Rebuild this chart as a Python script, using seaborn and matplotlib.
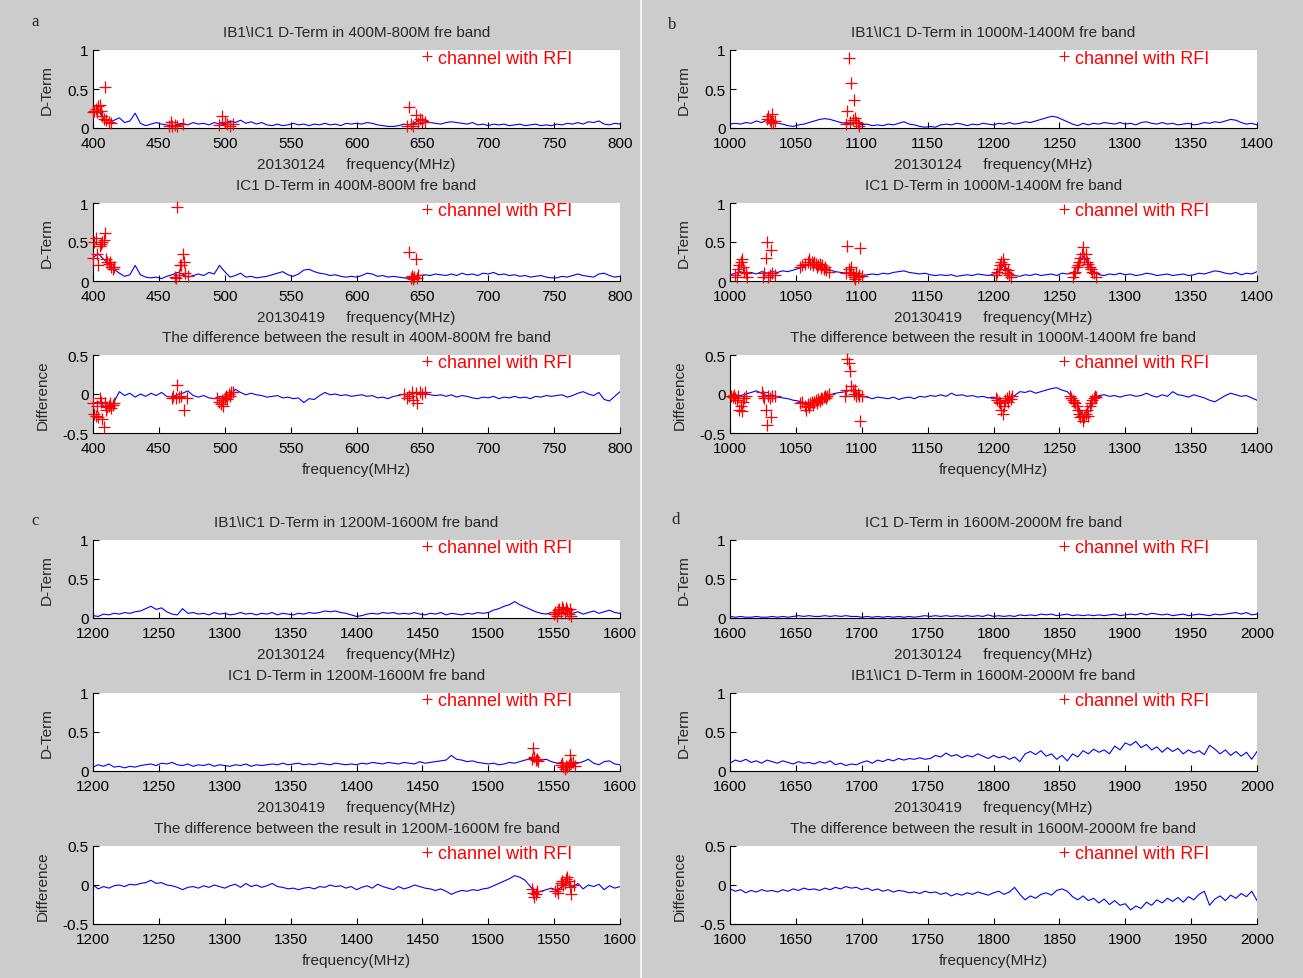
import numpy as np
import matplotlib
matplotlib.use("Agg")
import matplotlib.pyplot as plt
from matplotlib.lines import Line2D
import seaborn as sns

sns.set_style("white")
plt.rcParams["font.family"] = ["Liberation Sans", "DejaVu Sans"]
plt.rcParams["axes.unicode_minus"] = False

# ---------------- data (4 MHz grid, rows of 10 values = 40 MHz) ----------------
a1_vals = [0.20,0.22,0.12,0.06,0.10,0.13,0.07,0.09,0.19,0.06,
           0.03,0.05,0.07,0.05,0.04,0.02,0.05,0.06,0.04,0.07,
           0.05,0.06,0.04,0.07,0.05,0.06,0.09,0.07,0.10,0.06,
           0.08,0.05,0.07,0.04,0.03,0.05,0.03,0.04,0.06,0.04,
           0.05,0.03,0.05,0.04,0.06,0.04,0.05,0.03,0.06,0.05,
           0.06,0.05,0.07,0.06,0.04,0.03,0.02,0.02,0.03,0.05,
           0.04,0.07,0.10,0.09,0.07,0.06,0.05,0.07,0.08,0.07,
           0.06,0.05,0.07,0.04,0.05,0.03,0.05,0.04,0.05,0.03,
           0.04,0.05,0.03,0.04,0.05,0.03,0.04,0.03,0.05,0.04,
           0.06,0.05,0.07,0.05,0.08,0.07,0.09,0.05,0.04,0.06,
           0.05]
a2_vals = [0.30,0.35,0.28,0.22,0.15,0.10,0.06,0.08,0.20,0.08,
           0.05,0.04,0.05,0.03,0.06,0.08,0.11,0.09,0.05,0.07,
           0.09,0.07,0.11,0.09,0.20,0.12,0.05,0.07,0.10,0.05,
           0.06,0.04,0.05,0.06,0.08,0.10,0.12,0.08,0.06,0.09,
           0.14,0.15,0.12,0.10,0.09,0.07,0.08,0.06,0.05,0.06,
           0.05,0.07,0.10,0.09,0.06,0.07,0.05,0.06,0.05,0.04,
           0.04,0.05,0.07,0.08,0.07,0.09,0.08,0.07,0.09,0.07,
           0.10,0.08,0.09,0.07,0.10,0.09,0.11,0.08,0.09,0.07,
           0.08,0.06,0.07,0.05,0.06,0.07,0.05,0.04,0.04,0.06,
           0.05,0.07,0.09,0.07,0.06,0.05,0.09,0.10,0.07,0.05,
           0.06]
a3_vals = [-0.12,-0.10,-0.15,-0.18,-0.10,0.03,-0.02,0.01,-0.04,0.00,
           -0.03,0.01,-0.02,0.02,-0.03,-0.04,-0.01,0.01,0.04,-0.02,
           -0.04,-0.02,-0.05,-0.06,-0.03,-0.05,-0.02,0.06,0.02,-0.01,
           0.01,-0.01,-0.02,-0.04,-0.03,-0.02,-0.05,-0.04,-0.06,-0.05,
           -0.11,-0.06,-0.07,-0.02,0.02,-0.01,0.00,-0.02,-0.01,-0.03,
           -0.02,-0.01,-0.03,-0.02,-0.05,-0.04,-0.06,-0.03,-0.02,0.00,
           -0.01,0.01,0.02,0.01,-0.01,-0.02,-0.01,-0.03,-0.01,-0.04,
           -0.02,-0.03,-0.05,-0.06,-0.04,-0.05,-0.03,-0.06,-0.04,-0.05,
           -0.03,-0.05,-0.04,-0.06,-0.03,-0.04,-0.02,-0.03,-0.02,-0.01,
           -0.04,-0.02,0.01,0.03,0.00,-0.02,0.02,-0.07,-0.09,-0.03,
           0.03]
b1_vals = [0.05,0.06,0.05,0.07,0.06,0.09,0.07,0.10,0.08,0.06,
           0.05,0.03,0.02,0.04,0.05,0.07,0.09,0.11,0.12,0.11,
           0.09,0.07,0.06,0.05,0.06,0.04,0.05,0.03,0.04,0.03,
           0.05,0.04,0.06,0.08,0.05,0.04,0.02,0.01,0.02,0.01,
           0.04,0.05,0.04,0.06,0.05,0.03,0.05,0.04,0.06,0.05,
           0.04,0.06,0.05,0.07,0.05,0.06,0.08,0.07,0.09,0.11,
           0.13,0.15,0.14,0.11,0.08,0.05,0.03,0.06,0.04,0.06,
           0.05,0.07,0.06,0.05,0.07,0.05,0.06,0.04,0.07,0.08,
           0.06,0.05,0.07,0.05,0.06,0.04,0.05,0.06,0.04,0.05,
           0.07,0.06,0.08,0.07,0.09,0.11,0.10,0.07,0.05,0.06,
           0.04]
b2_vals = [0.08,0.10,0.12,0.09,0.11,0.09,0.12,0.10,0.12,0.11,
           0.13,0.12,0.14,0.16,0.19,0.21,0.20,0.18,0.16,0.14,
           0.12,0.11,0.10,0.09,0.08,0.07,0.08,0.09,0.08,0.10,
           0.09,0.11,0.12,0.13,0.11,0.10,0.09,0.10,0.08,0.07,
           0.08,0.07,0.08,0.06,0.07,0.08,0.07,0.09,0.08,0.07,
           0.09,0.12,0.20,0.12,0.07,0.06,0.08,0.07,0.09,0.07,
           0.08,0.09,0.07,0.10,0.09,0.10,0.20,0.32,0.22,0.12,
           0.08,0.07,0.09,0.08,0.10,0.08,0.09,0.07,0.08,0.10,
           0.09,0.07,0.08,0.09,0.07,0.08,0.09,0.07,0.08,0.10,
           0.09,0.11,0.13,0.12,0.10,0.09,0.11,0.08,0.10,0.09,
           0.12]
b3_vals = [-0.03,-0.04,-0.02,0.00,0.02,0.04,0.01,-0.02,-0.01,-0.04,
           -0.05,-0.06,-0.08,-0.09,-0.11,-0.12,-0.10,-0.07,-0.04,-0.01,
           0.01,0.02,0.03,0.05,0.02,-0.03,-0.04,-0.06,-0.04,-0.05,
           -0.06,-0.04,-0.07,-0.05,-0.04,-0.06,-0.03,-0.04,-0.02,-0.03,
           -0.01,-0.03,0.01,-0.02,-0.01,-0.03,-0.02,-0.04,-0.03,-0.05,
           -0.04,-0.07,-0.11,-0.06,-0.02,0.03,0.02,0.04,0.01,0.03,
           0.05,0.07,0.08,0.05,0.03,-0.04,-0.15,-0.28,-0.18,-0.06,
           -0.02,-0.01,-0.03,-0.02,-0.04,-0.02,-0.01,-0.03,-0.02,0.01,
           -0.02,-0.04,-0.01,-0.03,0.03,-0.01,-0.02,-0.04,-0.01,-0.03,
           -0.05,-0.08,-0.10,-0.06,-0.02,0.01,-0.01,-0.03,-0.02,-0.05,
           -0.08]
c1_vals = [0.03,0.02,0.05,0.04,0.06,0.05,0.07,0.06,0.08,0.09,
           0.12,0.15,0.11,0.13,0.08,0.05,0.04,0.12,0.06,0.07,
           0.05,0.06,0.04,0.07,0.05,0.06,0.04,0.05,0.07,0.05,
           0.06,0.04,0.06,0.05,0.07,0.04,0.06,0.05,0.04,0.06,
           0.05,0.07,0.06,0.07,0.09,0.08,0.09,0.07,0.06,0.04,
           0.02,0.03,0.05,0.06,0.05,0.07,0.06,0.07,0.05,0.06,
           0.05,0.07,0.05,0.04,0.06,0.05,0.07,0.04,0.06,0.05,
           0.04,0.06,0.05,0.07,0.06,0.07,0.10,0.12,0.15,0.17,
           0.21,0.17,0.14,0.11,0.08,0.06,0.05,0.07,0.06,0.12,
           0.10,0.06,0.08,0.05,0.07,0.09,0.06,0.08,0.10,0.07,
           0.06]
c2_vals = [0.05,0.08,0.06,0.09,0.05,0.06,0.04,0.06,0.05,0.07,
           0.08,0.09,0.07,0.10,0.09,0.11,0.08,0.07,0.09,0.06,
           0.08,0.07,0.09,0.06,0.08,0.07,0.06,0.08,0.07,0.09,
           0.06,0.08,0.07,0.08,0.09,0.08,0.10,0.08,0.09,0.10,
           0.08,0.09,0.08,0.10,0.09,0.08,0.10,0.09,0.08,0.09,
           0.08,0.10,0.09,0.11,0.10,0.09,0.11,0.10,0.09,0.11,
           0.10,0.09,0.12,0.10,0.11,0.12,0.13,0.14,0.20,0.15,
           0.14,0.12,0.13,0.11,0.10,0.09,0.10,0.08,0.09,0.11,
           0.10,0.12,0.14,0.16,0.17,0.14,0.15,0.12,0.10,0.11,
           0.09,0.08,0.10,0.12,0.15,0.10,0.08,0.12,0.13,0.09,
           0.08]
c3_vals = [0.00,-0.05,-0.02,-0.04,-0.01,0.00,-0.02,0.01,0.00,0.02,
           0.03,0.06,0.02,0.03,0.00,-0.01,-0.03,-0.06,-0.03,-0.02,
           -0.04,-0.01,-0.03,0.00,-0.02,-0.04,-0.01,0.01,-0.03,0.02,
           -0.02,0.00,-0.03,-0.01,0.02,-0.02,-0.03,-0.05,-0.04,-0.06,
           -0.04,-0.03,-0.05,-0.02,-0.03,0.00,-0.02,-0.01,-0.04,-0.02,
           -0.06,-0.03,-0.01,-0.04,0.01,-0.02,-0.04,-0.06,-0.02,-0.05,
           -0.03,0.00,-0.02,-0.04,-0.05,-0.07,-0.05,-0.08,-0.12,-0.09,
           -0.07,-0.08,-0.06,-0.07,-0.05,-0.04,-0.01,0.02,0.05,0.08,
           0.12,0.10,0.06,-0.02,-0.10,-0.08,-0.06,-0.04,-0.07,-0.02,
           0.04,-0.03,0.02,-0.05,0.00,-0.02,0.01,-0.06,-0.01,-0.04,
           -0.02]
d1_vals = [0.02,0.01,0.02,0.01,0.01,0.02,0.01,0.01,0.02,0.01,
           0.02,0.01,0.02,0.03,0.02,0.03,0.02,0.02,0.03,0.02,
           0.03,0.02,0.03,0.02,0.02,0.01,0.02,0.01,0.02,0.01,
           0.02,0.01,0.02,0.01,0.02,0.01,0.02,0.03,0.02,0.03,
           0.02,0.03,0.02,0.03,0.02,0.03,0.02,0.03,0.02,0.04,
           0.02,0.03,0.02,0.03,0.02,0.04,0.03,0.04,0.03,0.05,
           0.04,0.05,0.03,0.04,0.05,0.03,0.04,0.03,0.04,0.03,
           0.04,0.03,0.04,0.05,0.03,0.04,0.05,0.04,0.06,0.04,
           0.06,0.05,0.04,0.05,0.03,0.04,0.05,0.03,0.04,0.05,
           0.04,0.03,0.05,0.04,0.05,0.06,0.07,0.05,0.07,0.04,
           0.05]
d2_vals = [0.10,0.14,0.12,0.15,0.11,0.13,0.10,0.14,0.12,0.10,
           0.13,0.11,0.09,0.12,0.10,0.11,0.09,0.12,0.10,0.13,
           0.08,0.10,0.07,0.09,0.08,0.11,0.13,0.10,0.14,0.12,
           0.15,0.13,0.16,0.14,0.16,0.15,0.17,0.15,0.16,0.20,
           0.18,0.23,0.19,0.21,0.17,0.20,0.18,0.22,0.19,0.16,
           0.20,0.17,0.19,0.15,0.18,0.12,0.22,0.25,0.21,0.26,
           0.19,0.22,0.15,0.20,0.13,0.22,0.18,0.26,0.22,0.28,
           0.24,0.27,0.22,0.32,0.27,0.36,0.33,0.38,0.30,0.34,
           0.27,0.31,0.24,0.30,0.25,0.29,0.22,0.27,0.23,0.26,
           0.21,0.33,0.28,0.22,0.27,0.20,0.25,0.19,0.24,0.15,
           0.25]
d3_vals = [-0.05,-0.08,-0.06,-0.10,-0.07,-0.09,-0.06,-0.08,-0.07,-0.09,
           -0.06,-0.08,-0.05,-0.07,-0.04,-0.06,-0.05,-0.07,-0.04,-0.06,
           -0.03,-0.05,-0.02,-0.04,-0.03,-0.06,-0.04,-0.07,-0.05,-0.08,
           -0.06,-0.09,-0.07,-0.08,-0.10,-0.09,-0.11,-0.08,-0.10,-0.09,
           -0.12,-0.10,-0.14,-0.11,-0.13,-0.10,-0.12,-0.09,-0.11,-0.13,
           -0.10,-0.08,-0.12,-0.09,-0.03,-0.12,-0.19,-0.14,-0.17,-0.12,
           -0.10,-0.13,-0.07,-0.05,-0.08,-0.15,-0.19,-0.14,-0.20,-0.17,
           -0.23,-0.18,-0.25,-0.20,-0.26,-0.24,-0.32,-0.27,-0.30,-0.22,
           -0.26,-0.19,-0.23,-0.17,-0.21,-0.16,-0.22,-0.15,-0.19,-0.12,
           -0.08,-0.26,-0.18,-0.14,-0.20,-0.13,-0.17,-0.11,-0.15,-0.08,
           -0.20]

# RFI-flagged channels: (frequency MHz, value)
a1_rfi = [(400,0.20),(401,0.22),(402,0.25),(403,0.20),(404,0.28),(405,0.30),(406,0.22),
          (407,0.15),(408,0.12),(409,0.52),(410,0.10),(412,0.08),(414,0.07),
          (458,0.03),(459,0.08),(460,0.02),(462,0.04),(464,0.03),(468,0.05),
          (496,0.04),(498,0.15),(500,0.08),(502,0.05),(504,0.03),(506,0.05),
          (638,0.02),(640,0.27),(641,0.05),(643,0.03),(645,0.17),(647,0.06),(648,0.12),(650,0.10),(652,0.08)]
a2_rfi = [(400,0.30),(401,0.50),(402,0.55),(403,0.35),(404,0.20),(405,0.45),(406,0.48),(407,0.50),
          (408,0.52),(409,0.62),(410,0.28),(411,0.25),(412,0.22),(413,0.25),(414,0.18),(415,0.15),(416,0.18),
          (462,0.05),(463,0.04),(464,0.95),(465,0.08),(466,0.20),(467,0.20),(468,0.35),(469,0.25),(470,0.10),(472,0.06),
          (640,0.37),(641,0.04),(642,0.06),(643,0.03),(644,0.05),(645,0.28),(646,0.04),(647,0.08)]
a3_rfi = [(400,-0.12),(401,-0.25),(402,-0.28),(403,-0.15),(404,-0.30),(405,-0.05),(406,-0.10),(407,-0.32),
          (408,-0.42),(409,-0.12),(410,-0.20),(411,-0.17),(412,-0.15),(413,-0.12),(414,-0.18),(415,-0.14),(416,-0.12),
          (460,-0.05),(461,-0.02),(463,-0.05),(464,0.12),(465,-0.04),(467,-0.02),(469,-0.20),(471,-0.05),
          (494,-0.05),(496,-0.10),(497,-0.13),(498,-0.08),(499,-0.15),(500,-0.05),(501,-0.02),(502,-0.06),
          (503,0.00),(504,-0.03),(505,0.02),(506,0.03),
          (636,0.00),(638,-0.05),(640,-0.02),(642,0.02),(643,-0.08),(645,0.01),(646,-0.12),(648,0.02),(650,0.00),(652,0.02)]
b1_rfi = [(1028,0.12),(1029,0.15),(1030,0.10),(1031,0.08),(1032,0.18),(1033,0.07),(1034,0.09),
          (1088,0.05),(1089,0.22),(1090,0.90),(1091,0.08),(1092,0.58),(1093,0.10),(1094,0.36),
          (1095,0.13),(1096,0.08),(1097,0.06),(1098,0.02)]
b2_rfi = [(1004,0.08),(1005,0.05),(1006,0.15),(1007,0.20),(1008,0.25),(1009,0.28),(1010,0.18),(1011,0.12),(1012,0.10),(1013,0.05),
          (1025,0.05),(1026,0.10),(1027,0.30),(1028,0.50),(1029,0.05),(1030,0.08),(1031,0.40),(1032,0.10),(1034,0.08),
          (1053,0.18),(1055,0.20),(1057,0.22),(1059,0.25),(1060,0.28),(1061,0.22),(1062,0.25),(1063,0.20),(1064,0.24),
          (1065,0.22),(1066,0.18),(1067,0.20),(1068,0.22),(1069,0.17),(1070,0.20),(1071,0.15),(1072,0.18),(1073,0.14),(1075,0.12),
          (1088,0.10),(1089,0.45),(1090,0.15),(1091,0.12),(1092,0.18),(1093,0.08),(1094,0.05),(1095,0.02),(1096,0.10),
          (1097,0.05),(1098,0.08),(1099,0.42),(1100,0.06),
          (1202,0.08),(1203,0.12),(1204,0.15),(1205,0.20),(1206,0.25),(1207,0.28),(1208,0.22),(1209,0.15),(1210,0.10),
          (1211,0.14),(1212,0.08),(1213,0.05),
          (1260,0.05),(1261,0.10),(1262,0.12),(1263,0.18),(1264,0.20),(1265,0.25),(1266,0.30),(1267,0.35),(1268,0.43),
          (1269,0.30),(1270,0.35),(1271,0.25),(1272,0.22),(1273,0.18),(1274,0.15),(1275,0.12),(1276,0.10),(1278,0.05)]
b3_rfi = [(1001,-0.02),(1002,-0.04),(1003,-0.01),(1004,-0.05),(1005,-0.08),(1006,-0.03),(1007,-0.20),(1008,-0.15),
          (1009,-0.22),(1010,-0.10),(1011,-0.05),(1012,-0.02),
          (1024,0.02),(1025,-0.02),(1026,-0.05),(1027,-0.20),(1028,-0.40),(1029,-0.02),(1030,-0.05),(1031,-0.30),(1032,-0.02),(1034,-0.03),
          (1053,-0.12),(1055,-0.10),(1057,-0.15),(1058,-0.20),(1059,-0.13),(1060,-0.17),(1061,-0.12),(1062,-0.10),(1063,-0.14),
          (1064,-0.10),(1065,-0.08),(1066,-0.11),(1067,-0.07),(1068,-0.09),(1069,-0.05),(1070,-0.07),(1071,-0.04),(1072,-0.03),
          (1073,-0.05),(1074,-0.02),(1075,0.00),
          (1087,-0.03),(1088,0.05),(1089,0.45),(1090,0.40),(1091,0.30),(1092,0.10),(1093,0.05),(1094,0.00),(1095,0.05),
          (1096,-0.02),(1097,0.00),(1098,-0.03),(1099,-0.35),(1100,-0.03),
          (1202,-0.05),(1203,-0.08),(1204,-0.10),(1205,-0.12),(1206,-0.20),(1207,-0.25),(1208,-0.15),(1209,-0.08),
          (1210,-0.05),(1211,-0.10),(1212,-0.03),(1213,-0.06),(1214,-0.02),
          (1258,-0.03),(1259,-0.05),(1260,-0.08),(1261,-0.10),(1262,-0.12),(1263,-0.15),(1264,-0.20),(1265,-0.25),
          (1266,-0.30),(1267,-0.28),(1268,-0.35),(1269,-0.30),(1270,-0.25),(1271,-0.20),(1272,-0.28),(1273,-0.15),
          (1274,-0.12),(1275,-0.08),(1276,-0.05),(1277,-0.03),(1278,-0.04)]
c1_rfi = [(1550,0.05),(1551,0.08),(1552,0.03),(1553,0.10),(1554,0.12),(1555,0.06),(1556,0.14),(1557,0.11),
          (1558,0.08),(1559,0.13),(1560,0.10),(1561,0.05),(1562,0.12),(1563,0.02)]
c2_rfi = [(1533,0.15),(1534,0.30),(1535,0.18),(1536,0.14),(1537,0.16),(1538,0.13),
          (1555,0.08),(1556,0.10),(1557,0.05),(1558,0.02),(1559,0.07),(1560,0.05),(1561,0.08),(1562,0.20),
          (1563,0.10),(1564,0.12),(1566,0.07)]
c3_rfi = [(1533,-0.05),(1534,-0.10),(1535,-0.15),(1536,-0.12),(1537,-0.08),
          (1551,-0.08),(1552,-0.05),(1553,-0.10),(1555,0.02),(1556,0.05),(1557,0.00),(1558,0.03),(1559,0.08),
          (1560,0.10),(1561,0.05),(1562,-0.02),(1563,-0.12),(1565,0.00)]
d1_rfi = []
d2_rfi = []
d3_rfi = []

bands = {"a": (400, 800), "b": (1000, 1400), "c": (1200, 1600), "d": (1600, 2000)}
titles = {
    "a": ["IB1\\IC1 D-Term in 400M-800M fre band", "IC1 D-Term in 400M-800M fre band",
          "The difference between the result in 400M-800M fre band"],
    "b": ["IB1\\IC1 D-Term in 1000M-1400M fre band", "IC1 D-Term in 1000M-1400M fre band",
          "The difference between the result in 1000M-1400M fre band"],
    "c": ["IB1\\IC1 D-Term in 1200M-1600M fre band", "IC1 D-Term in 1200M-1600M fre band",
          "The difference between the result in 1200M-1600M fre band"],
    "d": ["IC1 D-Term in 1600M-2000M fre band", "IB1\\IC1 D-Term in 1600M-2000M fre band",
          "The difference between the result in 1600M-2000M fre band"],
}
xlabels = ["20130124     frequency(MHz)", "20130419     frequency(MHz)", "frequency(MHz)"]
series = {
    "a": [(a1_vals, a1_rfi), (a2_vals, a2_rfi), (a3_vals, a3_rfi)],
    "b": [(b1_vals, b1_rfi), (b2_vals, b2_rfi), (b3_vals, b3_rfi)],
    "c": [(c1_vals, c1_rfi), (c2_vals, c2_rfi), (c3_vals, c3_rfi)],
    "d": [(d1_vals, d1_rfi), (d2_vals, d2_rfi), (d3_vals, d3_rfi)],
}

# ---------------- layout ----------------
W, H = 1303, 979
fig = plt.figure(figsize=(W / 100, H / 100), dpi=100, facecolor="#cccccc")

col_left = {"a": 93, "b": 730, "c": 93, "d": 730}
row_top = {"a": [51, 204, 356], "b": [51, 204, 356], "c": [541, 694, 847], "d": [541, 694, 847]}
AX_W, AX_H = 527, 78
letter_pos = {"a": (35, 22), "b": (672, 25), "c": (35, 521), "d": (676, 520)}

FS = 11
for key in ["a", "b", "c", "d"]:
    lo, hi = bands[key]
    fig.text(letter_pos[key][0] / W, 1 - letter_pos[key][1] / H, key,
             family=["Liberation Serif", "DejaVu Serif"], fontsize=12, ha="center", va="center")
    for r in range(3):
        top = row_top[key][r]
        ax = fig.add_axes([col_left[key] / W, 1 - (top + AX_H) / H, AX_W / W, AX_H / H])
        ax.set_facecolor("white")
        vals, rfi = series[key][r]
        freq = np.linspace(lo, hi, len(vals))
        sns.lineplot(x=freq, y=vals, ax=ax, color="#0000ff", linewidth=0.8)
        if rfi:
            rf = [p[0] for p in rfi]
            rv = [p[1] for p in rfi]
            sns.scatterplot(x=rf, y=rv, ax=ax, marker="+", color="red", s=75,
                            linewidth=0.9, clip_on=False, zorder=3)
        ax.set_xlim(lo, hi)
        ax.set_xticks(np.arange(lo, hi + 1, 50))
        if r < 2:
            ax.set_ylim(0, 1)
            ax.set_yticks([0, 0.5, 1])
            ax.set_yticklabels(["0", "0.5", "1"])
            ax.set_ylabel("D-Term", fontsize=FS, va="center")
            ax.yaxis.set_label_coords(-46 / AX_W, 0.5)
        else:
            ax.set_ylim(-0.5, 0.5)
            ax.set_yticks([-0.5, 0, 0.5])
            ax.set_yticklabels(["-0.5", "0", "0.5"])
            ax.set_ylabel("Difference", fontsize=FS, va="center")
            ax.yaxis.set_label_coords(-50 / AX_W, 0.5)
        ax.set_xlabel(xlabels[r], fontsize=FS, va="center")
        ax.xaxis.set_label_coords(0.5, -36 / AX_H)
        ax.set_title(titles[key][r], fontsize=FS, y=1 + 18 / AX_H, pad=0, va="center")
        for s in ["top", "right"]:
            ax.spines[s].set_visible(False)
        for s in ["left", "bottom"]:
            ax.spines[s].set_color("black")
            ax.spines[s].set_linewidth(0.8)
        ax.tick_params(axis="both", direction="in", length=4, width=0.8, colors="black",
                       labelsize=FS, bottom=True, left=True)
        ax.tick_params(axis="x", pad=5.5)
        ax.tick_params(axis="y", pad=3)
        handle = Line2D([], [], marker="+", color="red", linestyle="none", markersize=7, markeredgewidth=0.8)
        ax.legend(handles=[handle], labels=["channel with RFI"], loc="center left",
                  bbox_to_anchor=(327 / AX_W, 1 - 8 / AX_H), frameon=False, labelcolor="red",
                  fontsize=13, handlelength=0.78, handletextpad=0.22, borderpad=0, borderaxespad=0)

fig.add_artist(Line2D([640.5 / W, 640.5 / W], [0, 1], transform=fig.transFigure,
                      color="#f2f2f2", linewidth=1.5))

fig.savefig("out.png", dpi=100, facecolor=fig.get_facecolor())
